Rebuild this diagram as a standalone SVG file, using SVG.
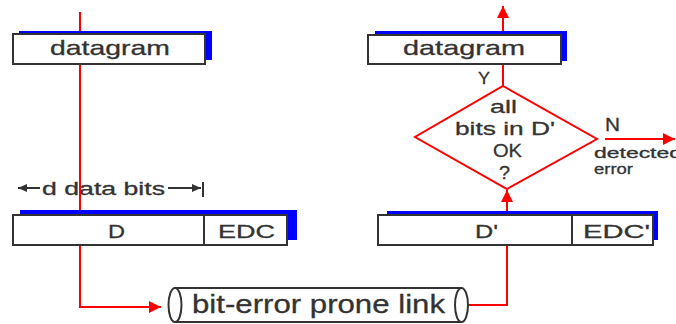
<svg xmlns="http://www.w3.org/2000/svg" width="676" height="324" viewBox="0 0 676 324">
  <style>
    .frame { fill: #ffffff; stroke: #333333; stroke-width: 2; }
    .shadow { fill: #0000ff; stroke: none; }
    .wire { fill: none; stroke: #ff0000; stroke-width: 2; }
    .lbl { font-family: "Liberation Sans", Arial, sans-serif; fill: #333333; stroke: #333333; stroke-width: 0.3; }
    .dim { stroke: #333333; stroke-width: 2; fill: none; }
  </style>
  <defs>
    <marker id="redhead" markerUnits="userSpaceOnUse" markerWidth="14" markerHeight="12" refX="12" refY="6" orient="auto">
      <path d="M0,0 L12,6 L0,12 Z" fill="#ff0000"/>
    </marker>
    <marker id="darkhead" markerUnits="userSpaceOnUse" markerWidth="10" markerHeight="8" refX="9" refY="4" orient="auto">
      <path d="M0,0 L9,4 L0,8 Z" fill="#333333"/>
    </marker>
  </defs>
  <rect width="676" height="324" fill="#ffffff"/>

  <!-- dimension label over the sender frame -->
  <g id="dim-label">
    <line class="dim" x1="40" y1="188" x2="18" y2="188" marker-end="url(#darkhead)"/>
    <text class="lbl" x="42" y="195" font-size="18" textLength="123" lengthAdjust="spacingAndGlyphs">d data bits</text>
    <line class="dim" x1="168" y1="188" x2="201" y2="188" marker-end="url(#darkhead)"/>
    <line class="dim" x1="203" y1="182" x2="203" y2="197"/>
  </g>

  <!-- connectors -->
  <g id="connectors">
    <path class="wire" d="M80,12 V307 H161" marker-end="url(#redhead)"/>
    <path class="wire" d="M468,305 H507 V190" marker-end="url(#redhead)"/>
    <path class="wire" d="M503,86 V6" marker-end="url(#redhead)"/>
    <path class="wire" d="M605,139 H675" marker-end="url(#redhead)"/>
  </g>

  <!-- sender datagram -->
  <g id="datagram-send">
    <rect class="shadow" x="19" y="31" width="193" height="29"/>
    <rect class="frame" x="13" y="34" width="192" height="30"/>
    <text class="lbl" x="50" y="55" font-size="21" textLength="120" lengthAdjust="spacingAndGlyphs">datagram</text>
  </g>

  <!-- receiver datagram -->
  <g id="datagram-recv">
    <rect class="shadow" x="375" y="31" width="192" height="30"/>
    <rect class="frame" x="368" y="35" width="193" height="29"/>
    <text class="lbl" x="403" y="55" font-size="21" textLength="122" lengthAdjust="spacingAndGlyphs">datagram</text>
    <text class="lbl" x="478" y="84" font-size="17" textLength="12" lengthAdjust="spacingAndGlyphs">Y</text>
  </g>

  <!-- sender frame D / EDC -->
  <g id="frame-send">
    <rect class="shadow" x="20" y="210" width="277" height="30"/>
    <rect class="frame" x="13" y="215" width="274" height="30"/>
    <line x1="204" y1="215" x2="204" y2="245" stroke="#333333" stroke-width="2"/>
    <text class="lbl" x="108" y="238" font-size="19" textLength="17" lengthAdjust="spacingAndGlyphs">D</text>
    <text class="lbl" x="218" y="238" font-size="19" textLength="57" lengthAdjust="spacingAndGlyphs">EDC</text>
  </g>

  <!-- receiver frame D' / EDC' -->
  <g id="frame-recv">
    <rect class="shadow" x="387" y="211" width="271" height="29"/>
    <rect class="frame" x="378" y="215" width="275" height="30"/>
    <line x1="572" y1="215" x2="572" y2="245" stroke="#333333" stroke-width="2"/>
    <text class="lbl" x="475" y="238" font-size="19" textLength="23" lengthAdjust="spacingAndGlyphs">D'</text>
    <text class="lbl" x="583" y="238" font-size="19" textLength="67" lengthAdjust="spacingAndGlyphs">EDC'</text>
  </g>

  <!-- error check decision -->
  <g id="check">
    <polygon points="503,86 597,139 507,189 415,137" fill="#ffffff" stroke="#ff0000" stroke-width="2"/>
    <text class="lbl" x="490" y="113" font-size="19" textLength="27" lengthAdjust="spacingAndGlyphs">all</text>
    <text class="lbl" x="455" y="135" font-size="19" textLength="100" lengthAdjust="spacingAndGlyphs">bits in D'</text>
    <text class="lbl" x="493" y="157" font-size="19" textLength="29" lengthAdjust="spacingAndGlyphs">OK</text>
    <text class="lbl" x="499" y="179" font-size="19" textLength="11" lengthAdjust="spacingAndGlyphs">?</text>
  </g>

  <!-- detected-error branch -->
  <g id="error-out">
    <text class="lbl" x="605" y="131" font-size="18" textLength="15" lengthAdjust="spacingAndGlyphs">N</text>
    <text class="lbl" x="594" y="158" font-size="15" textLength="88" lengthAdjust="spacingAndGlyphs">detected</text>
    <text class="lbl" x="594" y="174" font-size="15" textLength="39" lengthAdjust="spacingAndGlyphs">error</text>
  </g>

  <!-- link -->
  <g id="link">
    <rect x="175" y="289" width="286" height="32" fill="#ffffff"/>
    <path d="M175,288 H461 M175,322 H461" stroke="#333333" stroke-width="2" fill="none"/>
    <ellipse cx="175" cy="305" rx="6.5" ry="17" fill="#ffffff" stroke="#333333" stroke-width="2"/>
    <ellipse cx="461.5" cy="305" rx="6.5" ry="17" fill="#ffffff" stroke="#333333" stroke-width="2"/>
    <text class="lbl" x="192" y="313" font-size="25" textLength="253" lengthAdjust="spacingAndGlyphs">bit-error prone link</text>
  </g>
</svg>
